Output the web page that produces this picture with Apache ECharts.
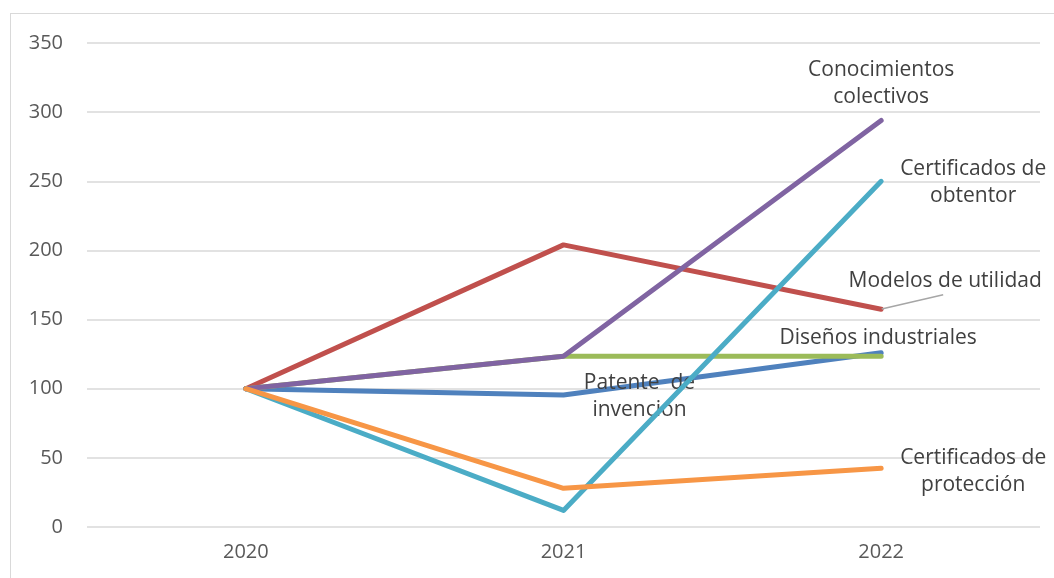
<!DOCTYPE html>
<html><head><meta charset="utf-8">
<script src="https://cdn.jsdelivr.net/npm/echarts@6/dist/echarts.min.js"></script>
<style>
html,body{margin:0;padding:0;background:#fff;}
#frame{position:absolute;left:10px;top:13px;width:1100px;height:600px;border:1px solid #d9d9d9;}
#c{position:absolute;left:0;top:0;width:1054px;height:578px;}
</style></head>
<body><div id="frame"></div><div id="c"></div>
<script>
const categories = ['2020','2021','2022'];
const yTicks = [0,50,100,150,200,250,300,350];
const patente = [100, 95.5, 126];
const modelos = [100, 204, 157.5];
const disenos = [100, 123.5, 123.5];
const conocimientos = [100, 123.5, 294];
const obtentor = [100, 12, 250];
const proteccion = [100, 28, 42.5];

const font = '"Open Sans", Lato, sans-serif';
const labelBase = {show:true, color:'#404040', fontSize:21, fontFamily:font, lineHeight:27, align:'center', verticalAlign:'middle', position:'inside'};

function withLabel(arr, idx, label) {
  return arr.map((v,i)=> i===idx ? {value:v, label:Object.assign({}, labelBase, label)} : v);
}

const chart = echarts.init(document.getElementById('c'), null, {renderer:'canvas'});
function mk(name, data, color, z) {
  return {name, type:'line', data, symbol:'circle', symbolSize:1, showSymbol:true, z:z,
    label:{show:false},
    lineStyle:{width:5, color:color, cap:'round', join:'round'}, itemStyle:{color:color},
    emphasis:{disabled:true}, animation:false};
}
chart.setOption({
  animation:false,
  grid:{left:87, right:14, top:43, bottom:51},
  xAxis:{type:'category', data:categories, boundaryGap:true,
    axisLine:{show:false}, axisTick:{show:false},
    axisLabel:{color:'#595959', fontSize:20, fontFamily:font, margin:15}},
  yAxis:{type:'value', min:yTicks[0], max:yTicks[yTicks.length-1], interval:50,
    axisLine:{show:false}, axisTick:{show:false},
    splitLine:{lineStyle:{color:'#d9d9d9', width:1.5}},
    axisLabel:{color:'#595959', fontSize:20, fontFamily:font, margin:24}},
  series:[
    mk('Patente de invención', withLabel(patente,1,{formatter:'Patente  de\ninvención', offset:[76,2]}), '#4F81BD', 2),
    Object.assign(mk('Modelos de utilidad', withLabel(modelos,2,{formatter:'Modelos de utilidad', padding:[0,44,0,48]}), '#C0504D', 3), {
      labelLayout:function(p){ return p.dataIndex===2 ? {dx:62, dy:-28} : {}; },
      labelLine:{show:true, length2:0, lineStyle:{color:'#a6a6a6', width:1.5}}
    }),
    mk('Diseños industriales', withLabel(disenos,2,{formatter:'Diseños industriales', offset:[-3,-18]}), '#9BBB59', 4),
    mk('Conocimientos colectivos', withLabel(conocimientos,2,{formatter:'Conocimientos\ncolectivos', offset:[0,-37]}), '#8064A2', 5),
    mk('Certificados de obtentor', withLabel(obtentor,2,{formatter:'Certificados de\nobtentor', offset:[92,1]}), '#4BACC6', 6),
    mk('Certificados de protección', withLabel(proteccion,2,{formatter:'Certificados de\nprotección', offset:[92,3]}), '#F79646', 7)
  ]
});
</script></body></html>
